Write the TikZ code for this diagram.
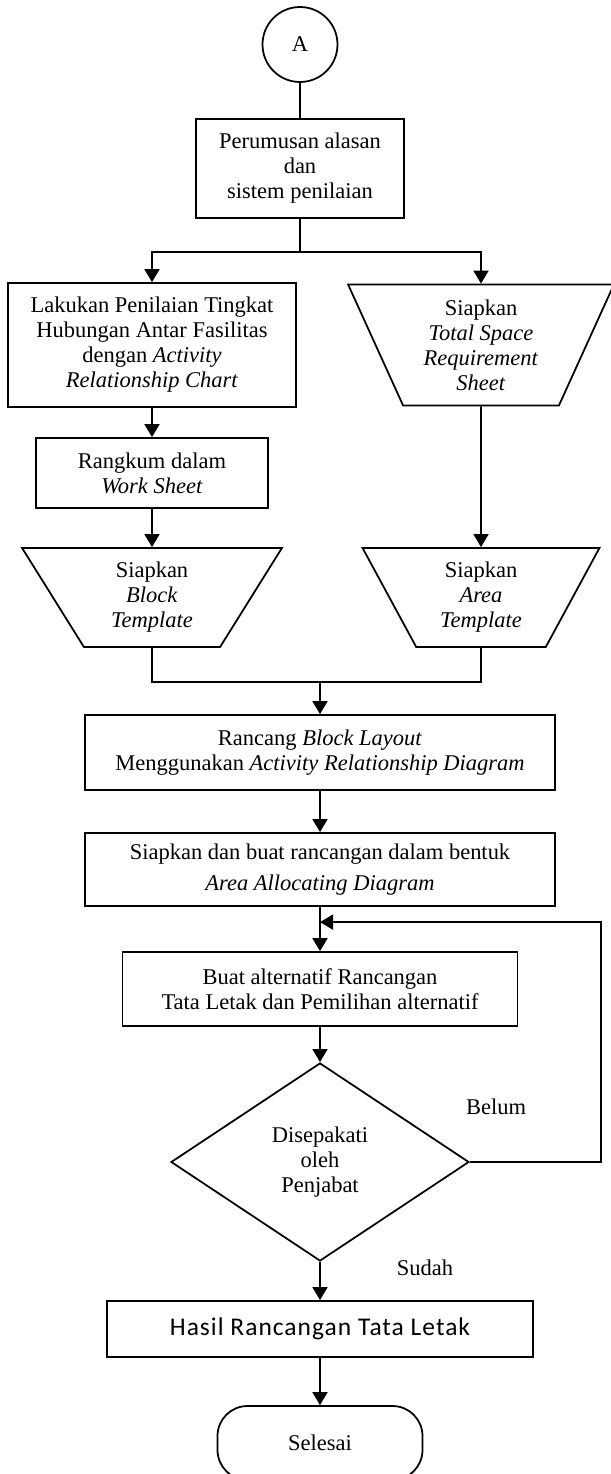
\documentclass[tikz,border=0pt]{standalone}
\usepackage{fontspec}
\setmainfont{Liberation Serif}
\newfontfamily\resultfont{Carlito}[LetterSpace=4]
\usetikzlibrary{shapes.geometric,arrows.meta,positioning}
\tikzset{%
    >={Triangle[width=3mm,length=2.6mm]},
    base/.style = {
        draw=black, line width=1pt, text centered, align=center,
        font=\fontsize{12.8}{14.2}\selectfont, inner sep=2pt
    },
    process/.style = {base, rectangle},
    template/.style = {
        base, trapezium, shape border rotate=180, trapezium stretches=true
    },
    connector/.style = {base, circle, minimum size=1.5cm},
    decision/.style = {base, diamond, aspect=1.5},
    terminal/.style = {base, rectangle, rounded corners=0.6cm},
    answer/.style = {font=\fontsize{12.8}{14.2}\selectfont, inner sep=2pt},
}

\begin{document}
\begin{tikzpicture}[
        node distance=2cm,
        line width=1pt
    ]
        \useasboundingbox (0,0) rectangle (12.22,-29.48);
        % Nodes position
        \node (start)       [connector] at (6.0,-0.89) {A};
        \node (reason)      [process, below of=start, yshift=-0.48cm,
                minimum width=4.16cm, minimum height=1.98cm]
                                {Perumusan alasan\\dan\\sistem penilaian};
        \node (rating)      [process, below of=reason, xshift=-2.96cm, yshift=-1.53cm,
                minimum width=5.76cm, minimum height=2.48cm]
                                {Lakukan Penilaian Tingkat\\Hubungan Antar Fasilitas\\
                                 dengan \textit{Activity}\\\textit{Relationship Chart}};
        \node (spacesheet)  [template, right of=rating, xshift=4.58cm,
                trapezium angle=66.3, minimum width=5.32cm, minimum height=2.42cm]
                                {Siapkan\\\textit{Total Space}\\\textit{Requirement}\\\textit{Sheet}};
        \node (summary)     [process, below of=rating, yshift=-0.56cm,
                minimum width=4.64cm, minimum height=1.4cm]
                                {Rangkum dalam\\\textit{Work Sheet}};
        \node (blocktpl)    [template, below of=summary, yshift=-0.49cm,
                trapezium angle=62.5, minimum width=5.24cm, minimum height=1.98cm]
                                {Siapkan\\\textit{Block}\\\textit{Template}};
        \node (areatpl)     [template, right of=blocktpl, xshift=4.58cm,
                trapezium angle=64.6, minimum width=4.76cm, minimum height=1.98cm]
                                {Siapkan\\\textit{Area}\\\textit{Template}};
        \node (blocklayout) [process, below of=blocktpl, xshift=3.36cm, yshift=-1.1cm,
                minimum width=9.4cm, minimum height=1.5cm]
                                {Rancang \textit{Block Layout}\\
                                 Menggunakan \textit{Activity Relationship Diagram}};
        \node (allocation)  [process, below of=blocklayout, yshift=-0.34cm,
                minimum width=9.4cm, minimum height=1.46cm]
                                {Siapkan dan buat rancangan dalam bentuk\\[0.12cm]
                                 \textit{Area Allocating Diagram}};
        \node (alternative) [process, below of=allocation, yshift=-0.39cm,
                minimum width=7.9cm, minimum height=1.48cm]
                                {Buat alternatif Rancangan\\Tata Letak dan Pemilihan alternatif};
        \node (approval)    [decision, below of=alternative, yshift=-1.46cm,
                minimum width=5.96cm, minimum height=3.96cm]
                                {Disepakati\\oleh\\Penjabat};
        \node (result)      [process, below of=approval, yshift=-1.34cm,
                minimum width=8.52cm, minimum height=1.12cm,
                font=\resultfont\fontsize{14.5}{16}\selectfont]
                                {Hasil Rancangan Tata Letak};
        \node (finish)      [terminal, below of=result, yshift=-0.28cm,
                minimum width=4.1cm, minimum height=1.48cm]
                                {Selesai};
        \coordinate [below=0.66cm of reason] (split);
        \coordinate [above=0.64cm of blocklayout] (join);
        \coordinate [above=0.58cm of alternative] (loopin);
        % Arrow specification
        \draw (start) -- (reason);
        \draw (reason) -- (split);
        \draw[->] (split) -| (rating);
        \draw[->] (split) -| (spacesheet);
        \draw[->] (rating) -- (summary);
        \draw[->] (summary) -- (blocktpl);
        \draw[->] (spacesheet) -- (areatpl);
        \draw (blocktpl) |- (join) -| (areatpl);
        \draw[->] (join) -- (blocklayout);
        \draw[->] (blocklayout) -- (allocation);
        \draw[->] (allocation) -- (alternative);
        \draw[->] (alternative) -- (approval);
        \draw[->] (approval) -- node[answer, pos=0.15, right=1.45cm] {Sudah} (result);
        \draw[->] (result) -- (finish);
        \draw[->] (approval.east) -- node[answer, pos=0.2, above=0.85cm] {Belum}
            ++(2.62,0) |- (loopin);
    \end{tikzpicture}
\end{document}
